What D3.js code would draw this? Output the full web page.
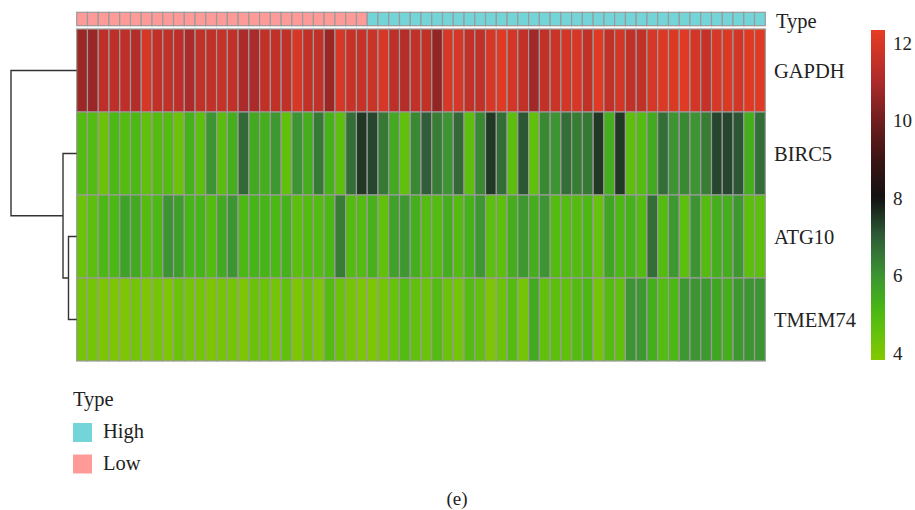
<!DOCTYPE html>
<html lang="en">
<head>
<meta charset="utf-8">
<title>Heatmap by Type</title>
<script src="https://cdn.jsdelivr.net/npm/d3@7"></script>
<style>
  body { margin: 0; background: #fff; }
  text { font-family: "Liberation Serif", "DejaVu Serif", serif; fill: #222; }
</style>
</head>
<body>
<div id="chart"></div>
<script>
// genes (rows, in dendrogram order)
var genes = ["GAPDH", "BIRC5", "ATG10", "TMEM74"];

// sample type for each of the 64 columns (27 Low, 37 High)
var sampleType = ["Low","Low","Low","Low","Low","Low","Low","Low","Low","Low",
  "Low","Low","Low","Low","Low","Low","Low","Low","Low","Low",
  "Low","Low","Low","Low","Low","Low","Low",
  "High","High","High","High","High","High","High","High","High","High",
  "High","High","High","High","High","High","High","High","High","High",
  "High","High","High","High","High","High","High","High","High","High",
  "High","High","High","High","High","High","High"];

var gapdh = [10.7,10.7,11.4,11.4,11.4,11.2,12.0,11.5,11.5,11.4,11.0,11.5,11.5,11.6,11.5,11.0,
  11.0,11.5,11.5,11.5,12.0,11.5,11.5,10.7,12.0,11.6,11.6,11.7,12.0,11.4,11.2,11.5,
  11.5,10.6,12.0,12.0,11.5,11.5,12.0,12.2,11.9,11.5,10.8,11.5,11.7,11.9,12.0,11.5,
  12.2,11.5,11.9,11.5,11.5,12.0,12.1,12.1,12.2,11.9,11.6,12.0,12.1,11.9,12.2,12.2];
var birc5 = [4.9,4.9,4.4,5.1,4.9,5.1,4.6,4.9,4.9,4.4,5.3,4.7,6.0,4.8,5.4,6.8,
  5.5,5.4,5.9,4.6,6.0,5.4,6.5,5.3,4.7,6.7,7.5,7.3,6.5,5.5,4.6,6.2,
  7.0,6.4,6.0,6.8,4.7,6.2,7.5,6.7,4.7,7.1,4.6,6.2,6.0,6.7,6.4,6.5,
  7.5,5.4,7.5,4.7,4.9,5.5,6.7,6.0,6.2,6.0,6.4,7.3,7.3,7.1,5.4,6.7];
var atg10 = [4.4,4.7,5.1,5.1,5.7,5.5,4.9,5.1,6.0,5.8,5.2,5.2,4.9,5.5,6.0,5.1,
  5.2,5.2,5.1,5.3,4.7,4.9,4.9,5.1,6.4,4.9,4.9,5.3,4.6,5.7,5.9,5.4,
  4.9,4.9,5.4,4.9,5.3,5.9,4.7,4.7,5.4,5.9,5.4,6.0,4.9,4.9,4.9,5.1,
  4.5,5.6,5.1,5.3,4.9,6.7,4.9,5.9,4.7,6.0,4.9,5.4,5.4,5.9,4.7,4.7];
var tmem74 = [4.2,4.2,4.0,4.0,4.0,4.2,4.0,4.2,4.0,4.4,4.2,4.2,4.0,4.2,4.2,4.0,
  4.4,4.4,4.2,4.6,4.0,4.4,4.0,4.9,4.4,4.2,4.0,4.0,4.2,4.5,4.9,4.6,
  4.4,4.9,4.4,4.2,4.9,4.6,4.0,4.4,4.9,4.2,5.5,4.6,4.7,4.6,4.9,5.1,
  4.2,4.9,4.6,6.0,5.9,5.4,4.9,5.1,5.9,6.0,5.9,5.6,5.4,5.9,6.0,6.0];
var values = [gapdh, birc5, atg10, tmem74];

// row dendrogram: merge heights
var rowTree = {h: 9.6, children: [
  {name: "GAPDH"},
  {h: 2.0, children: [
    {name: "BIRC5"},
    {h: 1.2, children: [{name: "ATG10"}, {name: "TMEM74"}]}
  ]}
]};

var legendTicks = [4, 6, 8, 10, 12];
var typeLegend = ["High", "Low"];
var typeColors = {High: "#74d5d8", Low: "#fe9b99"};

var width = 915, height = 510;
var svg = d3.select("#chart").append("svg")
  .attr("width", width).attr("height", height);

var x = d3.scaleBand().domain(d3.range(sampleType.length)).range([76.7, 765.3]);
var y = d3.scaleBand().domain(genes).range([29, 361]);

// colour ramp green -> black -> red
var color = d3.scaleLinear()
  .domain([3.82, 4.5, 5.2, 6.0, 7.0, 8.0, 9.0, 10.0, 11.0, 12.34])
  .range(["#84c800","#66c20a","#46b616","#3c9432","#2f5e38","#121212","#3c1414","#701e1e","#ac2a2a","#e63c24"])
  .clamp(true);

// type annotation bar
svg.append("g").selectAll("rect")
  .data(sampleType)
  .enter().append("rect")
  .attr("x", function(d, i) { return x(i); })
  .attr("y", 12.3)
  .attr("width", x.bandwidth())
  .attr("height", 13.4)
  .attr("fill", function(d) { return typeColors[d]; })
  .attr("stroke", "#9a9a9a")
  .attr("stroke-width", 1.2);

svg.append("text").attr("x", 776).attr("y", 28).style("font-size", "20.5px").text("Type");

// heatmap cells
var cells = [];
genes.forEach(function(g, r) {
  values[r].forEach(function(v, c) { cells.push({gene: g, col: c, value: v}); });
});
svg.append("g").selectAll("rect")
  .data(cells)
  .enter().append("rect")
  .attr("x", function(d) { return x(d.col); })
  .attr("y", function(d) { return y(d.gene); })
  .attr("width", x.bandwidth())
  .attr("height", y.bandwidth())
  .attr("fill", function(d) { return color(d.value); })
  .attr("stroke", "#9a9a9a")
  .attr("stroke-width", 1.2);

// row labels
svg.append("g").selectAll("text")
  .data(genes)
  .enter().append("text")
  .attr("x", 774)
  .attr("y", function(d) { return y(d) + y.bandwidth() / 2; })
  .attr("dy", "0.35em")
  .style("font-size", "20.5px")
  .text(function(d) { return d; });

// dendrogram
var hx = d3.scaleLinear().domain([0, rowTree.h]).range([76.7, 11]);
function layout(node) {
  if (!node.children) { node.y = y(node.name) + y.bandwidth() / 2; node.x = hx(0); return node; }
  node.children.forEach(layout);
  node.y = d3.mean(node.children, function(c) { return c.y; });
  node.x = hx(node.h);
  return node;
}
layout(rowTree);
var dendro = svg.append("g").attr("fill", "none").attr("stroke", "#333").attr("stroke-width", 1.4);
(function drawNode(node) {
  if (!node.children) return;
  var a = node.children[0], b = node.children[1];
  dendro.append("path")
    .attr("d", "M" + a.x + "," + a.y + "H" + node.x + "V" + b.y + "H" + b.x);
  node.children.forEach(drawNode);
})(rowTree);

// colour legend
var ly = d3.scaleLinear().domain([3.82, 12.34]).range([360, 30]);
var grad = svg.append("defs").append("linearGradient")
  .attr("id", "ramp").attr("x1", 0).attr("y1", 1).attr("x2", 0).attr("y2", 0);
d3.range(0, 1.0001, 0.02).forEach(function(t) {
  grad.append("stop").attr("offset", t)
    .attr("stop-color", color(3.82 + t * (12.34 - 3.82)));
});
svg.append("rect").attr("x", 871).attr("y", 30).attr("width", 14).attr("height", 330)
  .attr("fill", "url(#ramp)");
svg.append("g").selectAll("text")
  .data(legendTicks)
  .enter().append("text")
  .attr("x", 893)
  .attr("y", function(d) { return ly(d); })
  .attr("dy", "0.35em")
  .style("font-size", "19px")
  .text(function(d) { return d; });

// type legend
svg.append("text").attr("x", 73).attr("y", 406).style("font-size", "20.5px").text("Type");
var tl = svg.append("g").selectAll("g")
  .data(typeLegend)
  .enter().append("g")
  .attr("transform", function(d, i) { return "translate(73," + (423 + i * 31.5) + ")"; });
tl.append("rect").attr("width", 19).attr("height", 19)
  .attr("fill", function(d) { return typeColors[d]; });
tl.append("text").attr("x", 30).attr("y", 15).style("font-size", "20.5px")
  .text(function(d) { return d; });

// caption
svg.append("text").attr("x", 457).attr("y", 505).attr("text-anchor", "middle")
  .style("font-size", "19px").text("(e)");
</script>
</body>
</html>
